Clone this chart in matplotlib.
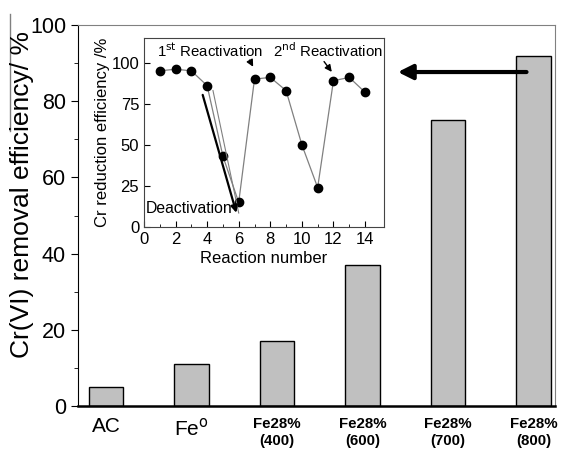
import matplotlib.pyplot as plt
from matplotlib.lines import Line2D

plt.rcParams['font.family'] = ['Liberation Sans', 'DejaVu Sans']

# main bar chart
samples = ['AC', 'Fe$^{\\rm o}$', 'Fe28%\n(400)', 'Fe28%\n(600)', 'Fe28%\n(700)', 'Fe28%\n(800)']
removal = [5, 11, 17, 37, 75, 92]

# inset: repeated reaction cycles
reaction_no = [1, 2, 3, 4, 5, 6, 7, 8, 9, 10, 11, 12, 13, 14]
reduction = [95, 96, 95, 86, 43, 15, 90, 91, 83, 50, 24, 89, 91, 82]

fig = plt.figure(figsize=(5.68, 4.5), dpi=100)
ax = fig.add_axes([0.137, 0.098, 0.84, 0.846])

x = range(len(samples))
ax.bar(x, removal, width=0.4, color='#c0c0c0', edgecolor='black', linewidth=1.0, zorder=2)
ax.set_xlim(-0.33, 5.25)
ax.set_ylim(0, 100)
ax.set_yticks([0, 20, 40, 60, 80, 100])
ax.set_yticks([10, 30, 50, 70, 90], minor=True)
ax.tick_params(axis='y', which='major', labelsize=15.5, length=5, direction='out')
ax.tick_params(axis='y', which='minor', length=3, direction='out')
ax.set_xticks(list(x))
ax.set_xticklabels(samples)
ax.tick_params(axis='x', length=0)
for i, (tick, lab) in enumerate(zip(ax.xaxis.get_major_ticks(), ax.get_xticklabels())):
    if i < 2:
        lab.set_fontsize(15)
        tick.set_pad(8)
    else:
        lab.set_fontsize(10.8)
        lab.set_fontweight('bold')
        lab.set_linespacing(1.3)
        tick.set_pad(8)
# y label placed by hand, it sits a bit above the axis centre in the original
fig.text(0.039, 1 - 194 / 450, 'Cr(VI) removal efficiency/ %', fontsize=19,
         rotation=90, ha='center', va='center')
ax.spines['top'].set_color('gray')
ax.spines['right'].set_color('gray')
ax.spines['bottom'].set_linewidth(1.8)

# arrow pointing from the Fe28%(800) bar to the inset
ax.annotate('', xy=(3.38, 87.7), xytext=(4.95, 87.7),
            arrowprops=dict(arrowstyle='-|>', color='black', lw=3, mutation_scale=22))

# odd line left of the y label in the original
fig.add_artist(Line2D([0.018, 0.018], [0.71, 0.968], color='gray', lw=1))

# inset
ins = fig.add_axes([0.2535, 0.4956, 0.4225, 0.42])
ins.plot(reaction_no, reduction, color='gray', lw=0.9, marker='o', markersize=6,
         markerfacecolor='black', markeredgecolor='black')
ins.set_xlim(0, 15.2)
ins.set_ylim(0, 115)
ins.set_xticks(range(0, 15, 2))
ins.set_xticks(range(1, 15, 2), minor=True)
ins.set_yticks([0, 25, 50, 75, 100])
ins.tick_params(which='both', direction='in', labelsize=12)
ins.tick_params(which='major', length=4)
ins.tick_params(which='minor', length=2)
ins.set_xlabel('Reaction number', fontsize=12, labelpad=3)
ins.set_ylabel('Cr reduction efficiency /%', fontsize=12, labelpad=1)
for s in ins.spines.values():
    s.set_color('#444444')

ins.text(0.85, 107.5, '1$^{\\rm st}$ Reactivation', fontsize=10.8, va='center')
ins.text(8.15, 107.5, '2$^{\\rm nd}$ Reactivation', fontsize=10.8, va='center')
ins.annotate('', xy=(7.0, 96), xytext=(6.6, 103),
             arrowprops=dict(arrowstyle='-|>', color='black', lw=1, mutation_scale=10))
ins.annotate('', xy=(12.0, 93), xytext=(11.3, 102),
             arrowprops=dict(arrowstyle='-|>', color='black', lw=1, mutation_scale=10))
ins.plot([4.37, 6.0], [83, 8.5], color='gray', lw=0.8)
ins.annotate('', xy=(5.9, 7), xytext=(3.67, 82),
             arrowprops=dict(arrowstyle='-|>', color='black', lw=1.6, mutation_scale=10))
ins.text(0.08, 11.5, 'Deactivation', fontsize=11.3, va='center')

plt.savefig('out.png', dpi=100)
